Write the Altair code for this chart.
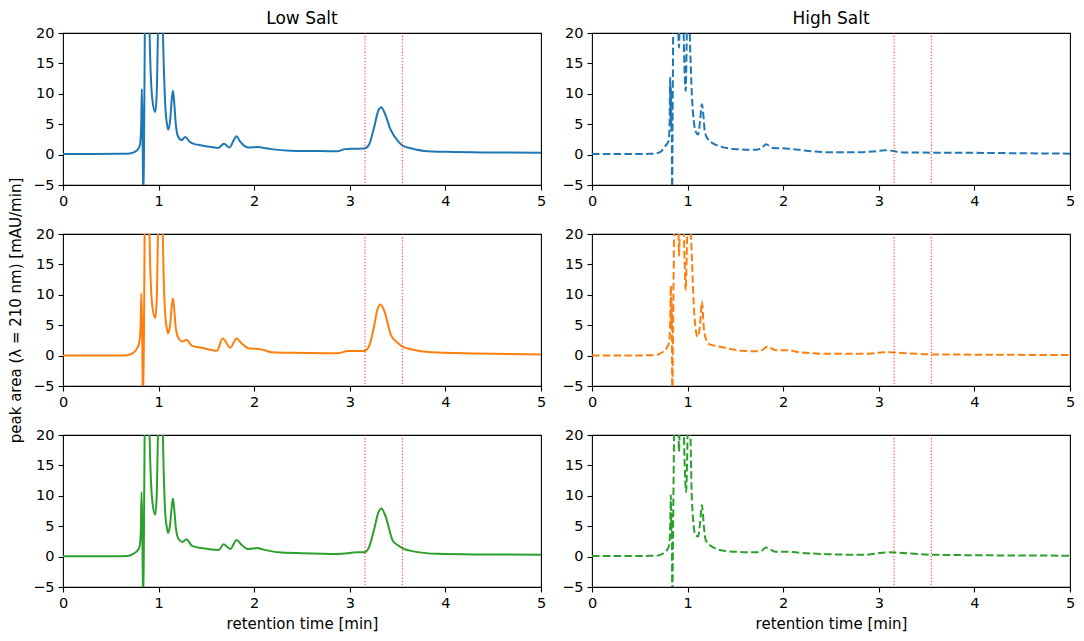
import altair as alt
import pandas as pd

FONT = "DejaVu Sans"

# ---- data ----
X_TICKS = [0, 1, 2, 3, 4, 5]
Y_TICKS = [-5, 0, 5, 10, 15, 20]
VLINES = [3.16, 3.55]
COL_TITLES = ["Low Salt", "High Salt"]
COLORS = ["#1f77b4", "#ff7f0e", "#2ca02c"]

low_blue_t = [0, 0.3, 0.6, 0.7, 0.75, 0.78, 0.805, 0.818, 0.825, 0.832, 0.84, 0.848, 0.858, 0.875, 0.895,
              0.91, 0.935, 0.965, 0.98, 0.995, 1.015, 1.035, 1.05, 1.07, 1.09, 1.10, 1.12, 1.14, 1.15, 1.16,
              1.18, 1.20, 1.24, 1.28, 1.32, 1.36, 1.45, 1.55, 1.625, 1.685, 1.74, 1.79, 1.815, 1.85, 1.9,
              1.94, 2.04, 2.1, 2.18, 2.38, 2.6, 2.875, 2.95, 3.01, 3.15, 3.2, 3.25, 3.3, 3.33, 3.36, 3.43,
              3.5, 3.55, 3.65, 3.78, 4.02, 4.5, 5.0]
low_blue_v = [0.1, 0.1, 0.12, 0.2, 0.45, 0.8, 1.6, 5, 10.8, 4, -8, 2, 25, 40, 28,
              17, 9, 7.0, 10, 22, 45, 28, 17, 8, 4.8, 4.1, 5.5, 9.5, 10.5, 9.2,
              5, 3.1, 2.4, 2.9, 2.2, 1.8, 1.5, 1.25, 1.1, 1.8, 1.15, 2.5, 3.0, 2.2, 1.4,
              1.15, 1.25, 1.1, 0.9, 0.65, 0.6, 0.55, 0.9, 0.95, 1.0, 1.6, 4.2, 7.3, 7.8, 7.0, 4.0,
              2.3, 1.5, 1.0, 0.6, 0.45, 0.35, 0.3]

low_orange_t = [0, 0.3, 0.6, 0.67, 0.73, 0.775, 0.8, 0.812, 0.82, 0.828, 0.836, 0.846, 0.856, 0.875, 0.895,
                0.91, 0.935, 0.965, 0.98, 0.995, 1.015, 1.035, 1.05, 1.07, 1.09, 1.10, 1.12, 1.14, 1.15, 1.16,
                1.18, 1.21, 1.25, 1.29, 1.35, 1.45, 1.61, 1.67, 1.75, 1.815, 1.87, 1.94, 2.04, 2.1, 2.18,
                2.4, 2.875, 2.98, 3.15, 3.2, 3.25, 3.29, 3.32, 3.36, 3.43, 3.5, 3.55, 3.65, 3.85, 4.3, 5.0]
low_orange_v = [0.0, 0.0, 0.0, 0.05, 0.4, 1.2, 2.3, 5, 10.2, 4, -8, 2, 25, 40, 28,
                16, 8, 6.2, 9, 22, 45, 28, 15, 6.5, 4.2, 3.65, 5, 8.5, 9.4, 8.2,
                4.5, 2.8, 2.3, 2.6, 1.6, 1.3, 0.8, 2.8, 1.3, 2.8, 2.0, 1.2, 1.1, 0.9, 0.55,
                0.45, 0.4, 0.75, 0.75, 1.5, 4.5, 7.6, 8.4, 7.4, 3.4, 2.1, 1.5, 1.0, 0.55, 0.35, 0.2]

low_green_t = [0, 0.3, 0.6, 0.67, 0.73, 0.79, 0.805, 0.815, 0.822, 0.83, 0.838, 0.846, 0.856, 0.875, 0.895,
               0.91, 0.935, 0.965, 0.98, 0.995, 1.015, 1.035, 1.05, 1.07, 1.09, 1.10, 1.12, 1.14, 1.15, 1.16,
               1.18, 1.21, 1.25, 1.29, 1.35, 1.45, 1.63, 1.68, 1.75, 1.815, 1.87, 1.94, 2.03, 2.1, 2.25,
               2.5, 2.875, 3.08, 3.15, 3.2, 3.25, 3.3, 3.33, 3.37, 3.45, 3.5, 3.55, 3.65, 3.92, 4.4, 5.0]
low_green_v = [0.05, 0.05, 0.07, 0.1, 0.4, 1.2, 2.0, 5, 10.6, 4, -8, 2, 25, 40, 28,
               17, 9, 6.9, 10, 22, 45, 28, 16, 7, 4.5, 3.9, 5.2, 8.6, 9.5, 8.4,
               4.8, 2.85, 2.4, 2.85, 1.77, 1.4, 1.08, 2.04, 1.24, 2.73, 1.9, 1.24, 1.4, 1.15, 0.7,
               0.55, 0.43, 0.7, 0.7, 1.5, 4.2, 7.3, 7.9, 6.8, 2.6, 1.9, 1.4, 0.9, 0.45, 0.35, 0.3]

high_blue_t = [0, 0.3, 0.6, 0.65, 0.72, 0.77, 0.8, 0.81, 0.818, 0.822, 0.826, 0.83, 0.834, 0.838, 0.843,
               0.85, 0.858, 0.875, 0.895, 0.91, 0.92, 0.935, 0.955, 0.97, 0.98, 0.99, 1.0, 1.015, 1.03, 1.05,
               1.065, 1.08, 1.11, 1.13, 1.15, 1.165, 1.18, 1.21, 1.27, 1.33, 1.5, 1.71, 1.77, 1.82, 1.89,
               2.03, 2.27, 2.45, 2.83, 2.93, 3.07, 3.28, 3.87, 5.0]
high_blue_v = [0.1, 0.1, 0.12, 0.15, 0.5, 1.5, 2.2, 4, 12.7, 6, 11, 4, 8, -8, 5,
               22, 35, 28, 24, 17.6, 24, 30, 22, 13, 10.5, 18, 30, 24, 16, 8.3,
               5.5, 4.0, 3.3, 5.5, 8.3, 6.5, 3.8, 2.6, 1.8, 1.4, 0.9, 0.8, 1.0, 1.7, 1.1,
               1.0, 0.6, 0.4, 0.4, 0.5, 0.7, 0.35, 0.3, 0.15]

high_orange_t = [0, 0.3, 0.6, 0.67, 0.73, 0.79, 0.81, 0.818, 0.825, 0.83, 0.834, 0.84, 0.848, 0.86, 0.88,
                 0.9, 0.91, 0.92, 0.935, 0.955, 0.97, 0.98, 0.99, 1.01, 1.03, 1.045, 1.07, 1.105, 1.13, 1.15,
                 1.17, 1.195, 1.225, 1.33, 1.57, 1.71, 1.78, 1.835, 1.92, 2.06, 2.13, 2.48, 2.9, 3.05, 3.56, 5.0]
high_orange_v = [0.0, 0.0, 0.05, 0.1, 0.5, 1.5, 2.5, 6, 11.5, 5, 9, -8, 4, 22, 35,
                 26, 16.4, 22, 30, 24, 15, 10.7, 16, 30, 22, 16, 6.8, 3.1, 5, 8.9,
                 4.5, 2.6, 1.9, 1.5, 0.8, 0.7, 0.9, 1.5, 0.9, 0.9, 0.65, 0.3, 0.3, 0.55, 0.2, 0.1]

high_green_t = [0, 0.3, 0.6, 0.67, 0.73, 0.79, 0.81, 0.818, 0.825, 0.83, 0.834, 0.84, 0.848, 0.86, 0.88,
                0.9, 0.91, 0.92, 0.935, 0.955, 0.97, 0.985, 0.995, 1.01, 1.03, 1.045, 1.08, 1.11, 1.13, 1.15,
                1.17, 1.19, 1.26, 1.40, 1.71, 1.77, 1.82, 1.92, 2.06, 2.13, 2.45, 2.85, 3.1, 3.56, 5.0]
high_green_v = [0.1, 0.1, 0.12, 0.15, 0.4, 1.2, 2.2, 5, 10.1, 4, 7, -8, 4, 22, 35,
                26, 17.3, 23, 30, 24, 15, 10.6, 16, 30, 20, 9.3, 3.6, 3.3, 5.5, 8.5,
                5, 2.7, 1.6, 0.9, 0.7, 0.9, 1.5, 0.8, 0.8, 0.7, 0.4, 0.3, 0.7, 0.3, 0.15]

LOW = [(low_blue_t, low_blue_v), (low_orange_t, low_orange_v), (low_green_t, low_green_v)]
HIGH = [(high_blue_t, high_blue_v), (high_orange_t, high_orange_v), (high_green_t, high_green_v)]

X_TITLE = "retention time [min]"
Y_TITLE = "peak area (\u03bb = 210 nm) [mAU/min]"


def panel(t, v, color, dashed, row, col):
    df = pd.DataFrame({"t": t, "v": v})
    xaxis = dict(values=X_TICKS, labelFlush=False, titlePadding=7, format="d", grid=False)
    xaxis["title"] = X_TITLE if row == 2 else None
    yaxis = dict(values=Y_TICKS, titlePadding=9, format="d", grid=False)
    yaxis["title"] = Y_TITLE if (row == 1 and col == 0) else None
    xs = alt.Scale(domain=[0, 5], nice=False, zero=False)
    ys = alt.Scale(domain=[-5, 20], nice=False, zero=False)
    line_kw = dict(color=color, strokeWidth=2, clip=True, interpolate="monotone")
    if dashed:
        line_kw["strokeDash"] = [7.5, 3.3]
    line = alt.Chart(df).mark_line(**line_kw).encode(
        x=alt.X("t:Q", scale=xs, axis=alt.Axis(**xaxis)),
        y=alt.Y("v:Q", scale=ys, axis=alt.Axis(**yaxis)),
    )
    rules = alt.Chart(pd.DataFrame({"t": VLINES})).mark_rule(
        color="red", strokeDash=[1.3, 1.8], strokeWidth=1.2, opacity=0.65
    ).encode(x=alt.X("t:Q", scale=xs))
    props = dict(width=478, height=152)
    if row == 0:
        props["title"] = alt.TitleParams(
            COL_TITLES[col], fontSize=17, font=FONT, fontWeight="normal",
            offset=-3, anchor="middle", color="black"
        )
    return alt.layer(line, rules).properties(**props)


panels = []
for r in range(3):
    for c, src in enumerate([LOW, HIGH]):
        t, v = src[r]
        panels.append(panel(t, v, COLORS[r], c == 1, r, c))

chart = alt.concat(
    *panels, columns=2, spacing={"row": 49, "column": 51}, bounds="flush"
).properties(
    padding={"left": 0, "top": 1, "right": 0, "bottom": 0},
    background="white",
).configure_view(
    stroke="black", strokeWidth=1.1
).configure_axis(
    domain=False, grid=False, tickColor="black", tickSize=5, tickWidth=1.1,
    labelFont=FONT, labelFontSize=14.5, labelColor="black", labelPadding=4,
    titleFont=FONT, titleFontSize=15, titleFontWeight="normal", titleColor="black"
)

chart.save("out.html", embed_options={"renderer": "svg", "actions": False})
